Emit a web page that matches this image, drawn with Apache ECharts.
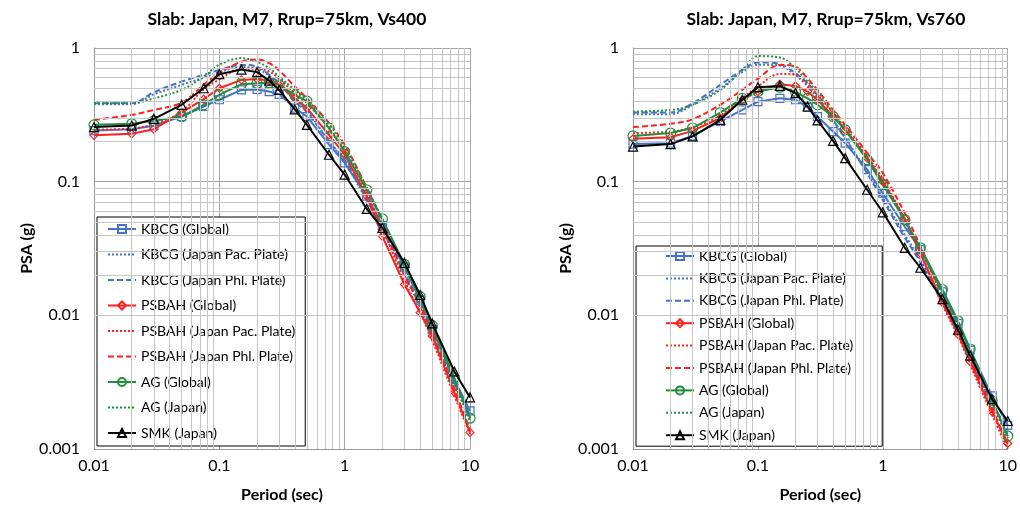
<!DOCTYPE html>
<html><head><meta charset="utf-8">
<script src="https://cdn.jsdelivr.net/npm/echarts@6/dist/echarts.min.js"></script>
<style>html,body{margin:0;padding:0;background:#fff}#c{width:1020px;height:508px}</style>
</head><body><div id="c"></div>
<script>
const PERIODS = [0.01,0.02,0.03,0.05,0.075,0.1,0.15,0.2,0.25,0.3,0.4,0.5,0.75,1,1.5,2,3,4,5,7.5,10];
const TITLES = ['Slab: Japan, M7, Rrup=75km, Vs400', 'Slab: Japan, M7, Rrup=75km, Vs760'];
const NAMES = ['KBCG (Global)','KBCG (Japan Pac. Plate)','KBCG (Japan Phl. Plate)','PSBAH (Global)','PSBAH (Japan Pac. Plate)','PSBAH (Japan Phl. Plate)','AG (Global)','AG (Japan)','SMK (Japan)'];
const X_TICKS = [0.01, 0.1, 1, 10];
const Y_TICKS = [0.001, 0.01, 0.1, 1];
const MINOR_MULT = [2,3,4,5,6,7,8,9];

// Vs400 panel
const L_KBCG_GLOBAL  = [0.241,0.247,0.262,0.307,0.365,0.41,0.486,0.49,0.472,0.45,0.355,0.307,0.189,0.138,0.078,0.047,0.023,0.013,0.0078,0.0033,0.00193];
const L_KBCG_PAC     = [0.38,0.38,0.45,0.53,0.6,0.66,0.72,0.7,0.62,0.54,0.41,0.34,0.2,0.14,0.072,0.043,0.02,0.0115,0.007,0.003,0.0017];
const L_KBCG_PHL     = [0.386,0.386,0.467,0.56,0.63,0.685,0.747,0.725,0.63,0.545,0.40,0.33,0.2,0.145,0.075,0.045,0.021,0.012,0.0073,0.0031,0.0018];
const L_PSBAH_GLOBAL = [0.222,0.228,0.247,0.329,0.414,0.50,0.577,0.587,0.57,0.53,0.42,0.355,0.224,0.159,0.078,0.039,0.017,0.0105,0.007,0.00265,0.00133];
const L_PSBAH_PAC    = [0.245,0.25,0.27,0.335,0.49,0.58,0.7,0.7,0.665,0.59,0.46,0.386,0.25,0.17,0.082,0.045,0.018,0.0105,0.0065,0.0025,0.0013];
const L_PSBAH_PHL    = [0.29,0.316,0.344,0.39,0.53,0.65,0.79,0.82,0.77,0.68,0.515,0.42,0.274,0.189,0.09,0.05,0.02,0.012,0.0072,0.0028,0.0014];
const L_AG_GLOBAL    = [0.266,0.271,0.285,0.307,0.376,0.446,0.536,0.545,0.55,0.53,0.446,0.40,0.252,0.168,0.087,0.0526,0.024,0.0138,0.0084,0.0034,0.0017];
const L_AG_JAPAN     = [0.386,0.386,0.42,0.486,0.61,0.75,0.84,0.79,0.705,0.61,0.486,0.41,0.266,0.18,0.09,0.052,0.023,0.013,0.008,0.0032,0.0016];
const L_SMK          = [0.256,0.263,0.295,0.376,0.50,0.637,0.69,0.66,0.57,0.486,0.348,0.266,0.159,0.113,0.0625,0.045,0.0247,0.0142,0.0087,0.0038,0.00243];

// Vs760 panel
const R_KBCG_GLOBAL  = [0.191,0.194,0.22,0.282,0.344,0.397,0.42,0.41,0.36,0.307,0.237,0.194,0.123,0.082,0.046,0.031,0.015,0.0087,0.0055,0.0025,0.0015];
const R_KBCG_PAC     = [0.32,0.32,0.375,0.5,0.66,0.75,0.74,0.62,0.52,0.42,0.285,0.212,0.118,0.076,0.04,0.026,0.0125,0.0075,0.0048,0.0022,0.0013];
const R_KBCG_PHL     = [0.329,0.329,0.386,0.53,0.685,0.78,0.76,0.647,0.545,0.44,0.29,0.21,0.115,0.073,0.038,0.025,0.0123,0.0074,0.0047,0.0022,0.0014];
const R_PSBAH_GLOBAL = [0.209,0.215,0.24,0.30,0.41,0.472,0.536,0.52,0.472,0.41,0.307,0.244,0.15,0.1,0.053,0.029,0.0125,0.0072,0.0045,0.0019,0.0011];
const R_PSBAH_PAC    = [0.231,0.237,0.256,0.311,0.42,0.515,0.64,0.63,0.53,0.446,0.325,0.252,0.155,0.105,0.052,0.029,0.012,0.007,0.0043,0.0018,0.001];
const R_PSBAH_PHL    = [0.256,0.271,0.293,0.376,0.486,0.59,0.747,0.725,0.59,0.486,0.344,0.266,0.164,0.116,0.058,0.033,0.014,0.008,0.0048,0.002,0.0011];
const R_AG_GLOBAL    = [0.22,0.231,0.252,0.329,0.42,0.472,0.509,0.47,0.42,0.376,0.307,0.244,0.146,0.095,0.052,0.032,0.0156,0.0091,0.0056,0.0023,0.00125];
const R_AG_JAPAN     = [0.335,0.344,0.376,0.486,0.685,0.87,0.85,0.705,0.56,0.472,0.325,0.244,0.15,0.1,0.05,0.031,0.014,0.0083,0.0052,0.0022,0.0012];
const R_SMK          = [0.183,0.191,0.218,0.29,0.41,0.509,0.52,0.46,0.365,0.287,0.202,0.15,0.087,0.059,0.032,0.0227,0.0132,0.0078,0.005,0.00236,0.00162];

const LEFT_DATA  = [L_KBCG_GLOBAL,L_KBCG_PAC,L_KBCG_PHL,L_PSBAH_GLOBAL,L_PSBAH_PAC,L_PSBAH_PHL,L_AG_GLOBAL,L_AG_JAPAN,L_SMK];
const RIGHT_DATA = [R_KBCG_GLOBAL,R_KBCG_PAC,R_KBCG_PHL,R_PSBAH_GLOBAL,R_PSBAH_PAC,R_PSBAH_PHL,R_AG_GLOBAL,R_AG_JAPAN,R_SMK];

const BLUE = '#4472C4', RED = '#FF1F1F', GREEN = '#1E8E3E', BLACK = '#000000';
const STYLES = [
  {color: BLUE,  type: 'solid',  symbol: 'rect',     size: 8},
  {color: BLUE,  type: [2,2],    symbol: 'none'},
  {color: BLUE,  type: [6,3],    symbol: 'none'},
  {color: RED,   type: 'solid',  symbol: 'diamond',  size: 8},
  {color: RED,   type: [2,2],    symbol: 'none'},
  {color: RED,   type: [6,3],    symbol: 'none'},
  {color: GREEN, type: 'solid',  symbol: 'circle',   size: 10},
  {color: GREEN, type: [2,2],    symbol: 'none'},
  {color: BLACK, type: 'solid',  symbol: 'triangle', size: 9}
];
const FONT = 'Lato';

const minorVals = [];
[0.001, 0.01, 0.1, 1].forEach(d => MINOR_MULT.forEach(m => minorVals.push(+(d*m).toPrecision(3))));
const minorX = minorVals.filter(v => v > 0.01 && v < 10);
const minorY = minorVals.filter(v => v > 0.001 && v < 1);

function makeSeries(idx, dataSets) {
  const out = [];
  out.push({
    type: 'line', xAxisIndex: idx, yAxisIndex: idx, data: [[0.01, 0.001]],
    showSymbol: false, lineStyle: {opacity: 0}, silent: true, z: 1, legendHoverLink: false,
    markLine: {
      silent: true, symbol: 'none', label: {show: false}, animation: false,
      lineStyle: {color: '#c6c6c6', width: 1, type: 'solid'},
      data: minorX.map(v => ({xAxis: v})).concat(minorY.map(v => ({yAxis: v})))
    }
  });
  dataSets.forEach((vals, i) => {
    const s = STYLES[i];
    const solid = s.type === 'solid';
    out.push({
      name: NAMES[i], type: 'line', xAxisIndex: idx, yAxisIndex: idx,
      data: PERIODS.map((p, k) => [p, vals[k]]),
      symbol: solid ? s.symbol : 'none',
      symbolSize: s.size || 0,
      showSymbol: solid,
      smooth: solid ? false : 0.35,
      lineStyle: {color: s.color, width: 2, type: s.type},
      itemStyle: {color: 'rgba(255,255,255,0)', borderColor: s.color, borderWidth: 1.2},
      z: 3 + (i === 8 ? 2 : 0),
      animation: false
    });
  });
  return out;
}

function axisX(idx) {
  return {
    type: 'log', logBase: 10, gridIndex: idx, min: 0.01, max: 10,
    name: 'Period (sec)', nameLocation: 'middle', nameGap: 38,
    nameTextStyle: {fontFamily: FONT, fontWeight: 'bold', fontSize: 16, color: '#000'},
    axisLine: {show: true, lineStyle: {color: '#999'}},
    axisTick: {show: false},
    axisLabel: {fontFamily: FONT, fontSize: 16, color: '#000', margin: 9,
      formatter: v => String(X_TICKS.find(t => Math.abs(t - v) / t < 1e-6) ?? '')},
    splitLine: {show: true, lineStyle: {color: '#a6a6a6', width: 1}},
    minorTick: {show: false}, minorSplitLine: {show: false}
  };
}
function axisY(idx) {
  return {
    type: 'log', logBase: 10, gridIndex: idx, min: 0.001, max: 1,
    name: 'PSA (g)', nameLocation: 'middle', nameGap: 49, nameRotate: 90,
    nameTextStyle: {fontFamily: FONT, fontWeight: 'bold', fontSize: 16, color: '#000'},
    axisLine: {show: true, lineStyle: {color: '#999'}},
    axisTick: {show: false},
    axisLabel: {fontFamily: FONT, fontSize: 16, color: '#000', margin: 14,
      formatter: v => String(Y_TICKS.find(t => Math.abs(t - v) / t < 1e-6) ?? '')},
    splitLine: {show: true, lineStyle: {color: '#a6a6a6', width: 1}}
  };
}

const legendData = NAMES.map((n, i) => STYLES[i].symbol === 'none'
  ? {name: n, itemStyle: {opacity: 0}}
  : {name: n});

const legendBase = {
  orient: 'vertical', backgroundColor: '#fff', borderColor: '#000', borderWidth: 1,
  itemWidth: 28, itemHeight: 10, selectedMode: false,
  textStyle: {fontFamily: FONT, fontSize: 14, color: '#000'},
  data: legendData
};

const option = {
  animation: false,
  backgroundColor: '#fff',
  title: [
    {text: TITLES[0], left: 282, top: 5, textAlign: 'center', textStyle: {fontFamily: FONT, fontWeight: 'bold', fontSize: 17.5, color: '#000'}},
    {text: TITLES[1], left: 821, top: 5, textAlign: 'center', textStyle: {fontFamily: FONT, fontWeight: 'bold', fontSize: 17.5, color: '#000'}}
  ],
  grid: [
    {left: 94, right: 550, top: 48, bottom: 58},
    {left: 633, right: 11, top: 48, bottom: 58}
  ],
  xAxis: [axisX(0), axisX(1)],
  yAxis: [axisY(0), axisY(1)],
  legend: [
    Object.assign({}, legendBase, {left: 97, top: 217, padding: [5, 10, 6, 10], itemGap: 11.5}),
    Object.assign({}, legendBase, {left: 636, top: 246, padding: [3, 29, 4, 29], itemGap: 8.4})
  ],
  series: makeSeries(0, LEFT_DATA).concat(makeSeries(1, RIGHT_DATA))
};

const chart = echarts.init(document.getElementById('c'), null, {renderer: 'canvas'});
chart.setOption(option);
</script>
</body></html>
